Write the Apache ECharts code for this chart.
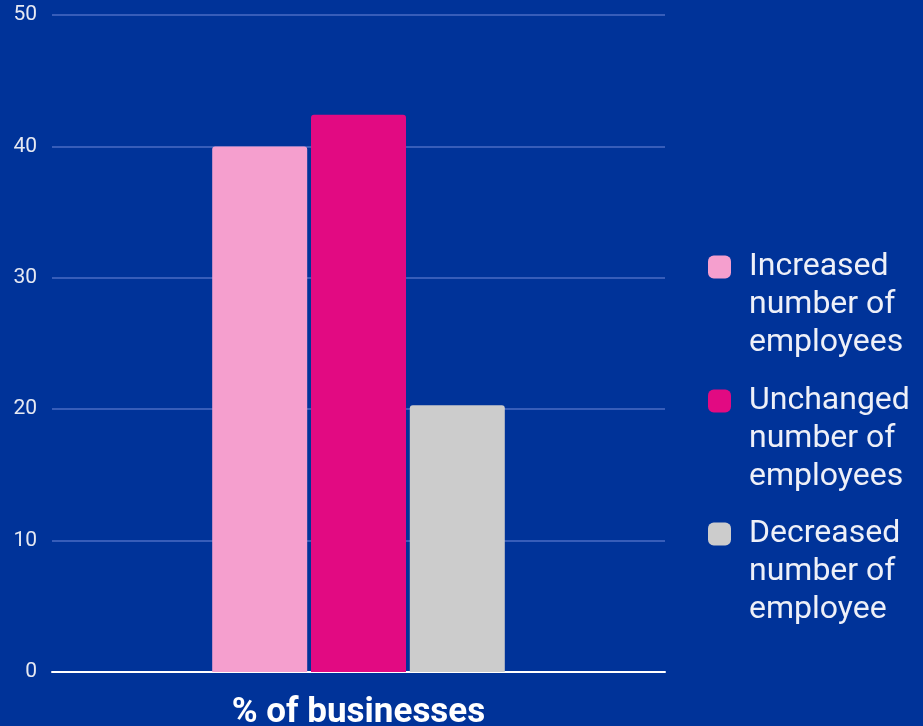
<!DOCTYPE html>
<html>
<head>
<meta charset="utf-8">
<script src="https://cdn.jsdelivr.net/npm/echarts@6/dist/echarts.min.js"></script>
<style>
html,body{margin:0;padding:0;background:#003399;}
#c{width:923px;height:726px;}
</style>
</head>
<body>
<div id="c"></div>
<script>
const categories = ['% of businesses'];
const seriesNames = ['Increased number of employees', 'Unchanged number of employees', 'Decreased number of employee'];
const legendLabels = ['Increased\nnumber of\nemployees', 'Unchanged\nnumber of\nemployees', 'Decreased\nnumber of\nemployee'];
const increased = [40];
const unchanged = [42.4];
const decreased = [20.3];
const yTicks = { min: 0, max: 50, interval: 10 };

const colors = ['#f59fce', '#e20a82', '#cccccc'];
const values = [increased, unchanged, decreased];
const legendTops = [172, 306, 439];

const chart = echarts.init(document.getElementById('c'));
chart.setOption({
  backgroundColor: '#003399',
  animation: false,
  grid: { left: 52, right: 258, top: 15, bottom: 54, containLabel: false, outerBoundsMode: 'none' },
  xAxis: {
    type: 'category',
    data: categories,
    axisLine: { lineStyle: { color: '#ffffff', width: 2 } },
    axisTick: { show: false },
    axisLabel: { color: '#ffffff', fontFamily: 'Roboto', fontWeight: 'bold', fontSize: 35, margin: 24 }
  },
  yAxis: {
    type: 'value',
    min: yTicks.min, max: yTicks.max, interval: yTicks.interval,
    axisLine: { show: false },
    axisTick: { show: false },
    splitLine: { lineStyle: { color: '#4a6cc4', width: 1.5 } },
    axisLabel: { color: '#e6e9f2', fontFamily: 'Roboto', fontSize: 21, margin: 15 }
  },
  legend: seriesNames.map((n, i) => ({
    data: [n],
    orient: 'vertical',
    left: 708,
    top: legendTops[i],
    padding: 0,
    itemWidth: 23,
    itemHeight: 23,
    icon: 'roundRect',
    formatter: () => '\n\n' + legendLabels[i],
    textStyle: { color: '#eef0f8', fontFamily: 'Roboto', fontSize: 32, lineHeight: 38, padding: [0, 0, 0, 13] }
  })),
  series: seriesNames.map((n, i) => ({
    name: n,
    type: 'bar',
    data: values[i],
    barWidth: 95,
    barGap: '4%',
    itemStyle: { color: colors[i], borderRadius: [3, 3, 0, 0] }
  }))
});
</script>
</body>
</html>
